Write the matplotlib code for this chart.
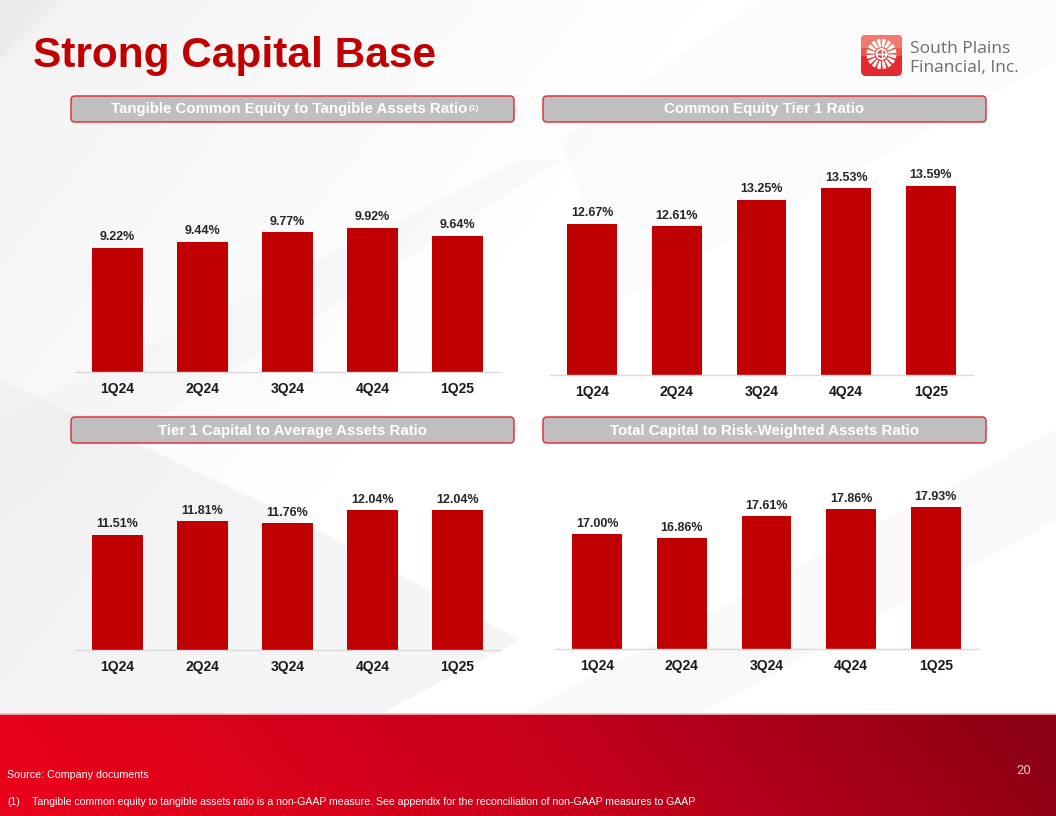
import numpy as np
import matplotlib
matplotlib.use("Agg")
import matplotlib.pyplot as plt
from matplotlib.patches import FancyBboxPatch, Polygon, Wedge, Circle, Rectangle

# ---------------- data ----------------
quarters = ["1Q24", "2Q24", "3Q24", "4Q24", "1Q25"]
tce_to_ta = [9.22, 9.44, 9.77, 9.92, 9.64]
cet1 = [12.67, 12.61, 13.25, 13.53, 13.59]
tier1_to_avg_assets = [11.51, 11.81, 11.76, 12.04, 12.04]
total_cap_to_rwa = [17.00, 16.86, 17.61, 17.86, 17.93]

panel_titles = [
    "Tangible Common Equity to Tangible Assets Ratio",
    "Common Equity Tier 1 Ratio",
    "Tier 1 Capital to Average Assets Ratio",
    "Total Capital to Risk-Weighted Assets Ratio",
]
main_title = "Strong Capital Base"
source_note = "Source: Company documents"
footnote = "Tangible common equity to tangible assets ratio is a non-GAAP measure. See appendix for the reconciliation of non-GAAP measures to GAAP"

# ---------------- figure ----------------
W, H = 1056, 816
plt.rcParams['font.family'] = ['Liberation Sans', 'DejaVu Sans']
fig = plt.figure(figsize=(W / 100, H / 100), dpi=100)

bg = fig.add_axes([0, 0, 1, 1], zorder=0)
bg.set_xlim(0, W)
bg.set_ylim(H, 0)
bg.axis('off')

# subtle light-gray background shapes
yy, xx = np.mgrid[0:H:2, 0:W:2]
base = np.ones_like(xx, dtype=float)
base -= 0.05 * np.clip(1 - (xx / 700.0 + yy / 900.0), 0, 1)
img = np.dstack([base, base, base])
bg.imshow(img, extent=(0, W, H, 0), aspect='auto', zorder=0, interpolation='bilinear')
shapes = [
    ([(0, 380), (0, 714), (380, 714), (520, 640), (300, 520)], '#e9e9e9', 0.45),
    ([(0, 420), (520, 160), (560, 160), (0, 520)], '#ededed', 0.3),
    ([(520, 714), (1056, 430), (1056, 520), (700, 714)], '#eeeeee', 0.3),
    ([(0, 0), (60, 0), (0, 60)], '#e6e6e6', 0.5),
    ([(560, 140), (760, 0), (1056, 0), (1056, 60), (620, 300)], '#f6f6f6', 0.4),
]
for pts, c, a in shapes:
    bg.add_patch(Polygon(pts, closed=True, facecolor=c, edgecolor='none', alpha=a, zorder=1))

# footer red band with horizontal gradient
fx = np.linspace(0, 1, 400)
fy = np.linspace(0, 1, 60)
FX, FY = np.meshgrid(fx, fy)
t = np.clip(FX * 1.05 - 0.08 * FY, 0, 1)
left = np.array([232, 2, 26]) / 255.0
mid = np.array([200, 0, 28]) / 255.0
right = np.array([142, 0, 20]) / 255.0
t2 = t[..., None]
col = np.where(t2 < 0.5, left + (mid - left) * (t2 / 0.5), mid + (right - mid) * ((t2 - 0.5) / 0.5))
bg.imshow(col, extent=(0, W, H, 714), aspect='auto', zorder=2, interpolation='bilinear')
bg.plot([0, W], [714, 714], color='#f4b8bf', lw=1.2, zorder=3)

# ---------------- title ----------------
fig.text(33 / W, 1 - 67 / H, main_title, fontsize=30.5, fontweight='bold', color='#c00000',
         ha='left', va='baseline', zorder=5)

# ---------------- logo ----------------
bg.add_patch(FancyBboxPatch((861, 35), 41, 41, boxstyle="round,pad=0,rounding_size=5",
                            facecolor='#e42a2f', edgecolor='none', zorder=4))
bg.add_patch(FancyBboxPatch((861, 35), 41, 20, boxstyle="round,pad=0,rounding_size=5",
                            facecolor='#f07a6c', edgecolor='none', zorder=4))
bg.add_patch(Rectangle((861, 48), 41, 8, facecolor='#ea5650', edgecolor='none', zorder=4))
cx, cy = 881.5, 54
for k in range(16):
    a0 = k * 22.5 + 3
    bg.add_patch(Wedge((cx, cy), 15, a0, a0 + 15, width=8, facecolor='white',
                       edgecolor='none', zorder=5))
bg.add_patch(Circle((cx, cy), 5, facecolor='none', edgecolor='white', lw=1.2, zorder=5))
bg.plot([cx - 5, cx + 5], [cy, cy], color='white', lw=1, zorder=5)
bg.plot([cx, cx], [cy - 5, cy + 5], color='white', lw=1, zorder=5)
fig.text(910 / W, 1 - 53 / H, "South Plains", fontsize=12.5, color='#6d6d6d',
         family=['Open Sans', 'DejaVu Sans'], ha='left', va='baseline', zorder=5)
fig.text(910 / W, 1 - 72 / H, "Financial, Inc.", fontsize=12.5, color='#6d6d6d',
         family=['Open Sans', 'DejaVu Sans'], ha='left', va='baseline', zorder=5)

# ---------------- panel headers ----------------
header_boxes = [(71, 96, 514, 122), (543, 96, 986, 122), (71, 417, 514, 443), (543, 417, 986, 443)]
header_texts = []
for (x0, y0, x1, y1), ttl in zip(header_boxes, panel_titles):
    bg.add_patch(FancyBboxPatch((x0, y0), x1 - x0, y1 - y0,
                                boxstyle="round,pad=0,rounding_size=4",
                                facecolor='#bfbfbf', edgecolor='#e0353f', lw=1.1, zorder=4))
    header_texts.append(fig.text((x0 + x1) / 2 / W - (3 / W if ttl == panel_titles[0] else 0),
                                 1 - ((y0 + y1) / 2 + 0.5) / H, ttl,
                                 fontsize=10.8, fontweight='bold', color='white',
                                 ha='center', va='center', zorder=6))

# ---------------- panels ----------------
bar_color = '#c00000'
panels = [
    (tce_to_ta, (75, 150, 500, 372), 4.88, 28.6),
    (cet1, (550, 150, 973, 375), 9.04, 41.6),
    (tier1_to_avg_assets, (75, 455, 500, 650), 9.00, 45.9),
    (total_cap_to_rwa, (555, 455, 978, 649), 13.04, 29.0),
]
for values, (x0, ytop, x1, ybase), ymin, pxu in panels:
    ax = fig.add_axes([x0 / W, 1 - ybase / H, (x1 - x0) / W, (ybase - ytop) / H], zorder=3)
    ax.patch.set_alpha(0)
    xs = np.arange(len(values))
    ax.bar(xs, values, width=0.59, color=bar_color, zorder=2)
    ax.set_xlim(-0.5, len(values) - 0.5)
    ax.set_ylim(ymin, ymin + (ybase - ytop) / pxu)
    for s in ['top', 'right', 'left']:
        ax.spines[s].set_visible(False)
    ax.spines['bottom'].set_color('#d9d9d9')
    ax.spines['bottom'].set_linewidth(1.0)
    ax.set_yticks([])
    ax.set_xticks(xs)
    ax.set_xticklabels(quarters, fontsize=10, fontweight='bold', color='#1a1a1a')
    ax.tick_params(axis='x', length=0, pad=7.5)
    for xi, v in zip(xs, values):
        ax.annotate(f"{v:.2f}%", (xi, v), xytext=(0, 5.4), textcoords='offset points',
                    ha='center', va='baseline', fontsize=9, fontweight='bold',
                    color='#262626', zorder=4)

# superscript for the first header
fig.canvas.draw()
bb = header_texts[0].get_window_extent()
fig.text((bb.x1 + 0.5) / W, (bb.y1 - 2) / H, "(1)", fontsize=6, fontweight='bold',
         color='white', ha='left', va='top', zorder=6)

# ---------------- footer text ----------------
fig.text(7 / W, 1 - 775 / H, source_note, fontsize=7.7, color='white', ha='left', va='center', zorder=6)
fig.text(7 / W, 1 - 802 / H, "(1)", fontsize=7.6, color='white', ha='left', va='center', zorder=6)
fig.text(32 / W, 1 - 802 / H, footnote, fontsize=7.6, color='white', ha='left', va='center', zorder=6)
fig.text(1031 / W, 1 - 771 / H, "20", fontsize=9.5, color='#ecc6cb', ha='right', va='center',
         family=['Roboto', 'DejaVu Sans'], zorder=6)

fig.savefig("out.png", dpi=100)
